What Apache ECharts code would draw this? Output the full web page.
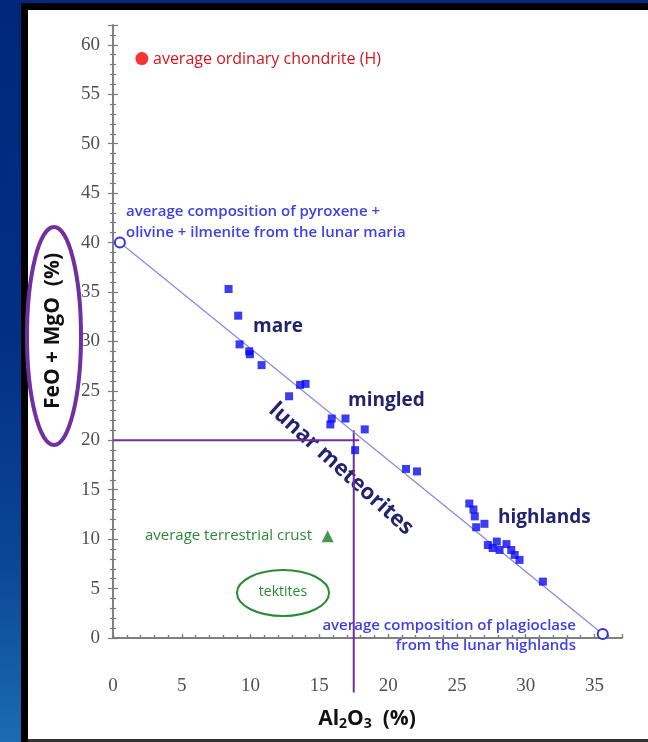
<!DOCTYPE html>
<html>
<head>
<meta charset="utf-8">
<script src="https://cdn.jsdelivr.net/npm/echarts@6/dist/echarts.min.js"></script>
<style>
  html, body { margin: 0; padding: 0; }
  body { width: 648px; height: 742px; position: relative; overflow: hidden;
         background: linear-gradient(to bottom, #00277a 0%, #022f86 45%, #0b4596 75%, #1b6cb0 100%); }
  #black { position: absolute; left: 21px; top: 3px; right: 0; bottom: 0; background: #000; }
  #white { position: absolute; left: 28px; top: 10px; right: 0; bottom: 3px; background: #fff; }
  #bottomline { position: absolute; left: 28px; right: 0; bottom: 0; height: 3px; background: #333; }
  #chart { position: absolute; left: 0; top: 0; width: 648px; height: 742px; }
</style>
</head>
<body>
<div id="black"></div>
<div id="white"></div>
<div id="bottomline"></div>
<div id="chart"></div>
<script>
// ---- data (Al2O3 %, FeO+MgO %) ----
const meteoriteAl2O3 = [8.4, 9.1, 9.2, 9.9, 9.95, 10.8, 12.8, 13.6, 14.0, 15.8, 15.9, 16.9, 17.6, 18.3,
  21.3, 22.1, 25.9, 26.2, 26.3, 26.4, 27.0, 27.25, 27.6, 27.9, 28.1, 28.6, 28.95, 29.2, 29.55, 31.25];
const meteoriteFeOMgO = [35.3, 32.6, 29.7, 29.0, 28.7, 27.6, 24.45, 25.6, 25.7, 21.6, 22.2, 22.2, 19.0, 21.1,
  17.1, 16.85, 13.6, 13.0, 12.3, 11.2, 11.55, 9.4, 9.1, 9.75, 8.9, 9.5, 8.9, 8.4, 7.9, 5.7];
const mixingAl2O3 = [0.5, 35.6];      // maria mafic end-member, plagioclase end-member
const mixingFeOMgO = [40.0, 0.4];
const chondrite = [2.1, 58.6];
const terrestrialCrust = [15.6, 10.3];
const crossH = { al2o3: [0, 17.9], feomgo: [20, 20] };
const crossV = { al2o3: [17.5, 17.5], feomgo: [21, -5.5] };
const xTicks = [0, 5, 10, 15, 20, 25, 30, 35];
const yTicks = [0, 5, 10, 15, 20, 25, 30, 35, 40, 45, 50, 55, 60];

const zip = (a, b) => a.map((v, i) => [v, b[i]]);

const chart = echarts.init(document.getElementById('chart'), null, { renderer: 'canvas' });

const axisLineStyle = { color: '#7a7a7a', width: 1.5 };
const tickStyle = { color: '#7a7a7a', width: 1.2 };
const labelFont = { fontFamily: '"Liberation Serif", "DejaVu Serif", serif', fontSize: 19, color: '#505050' };

const annotFont = '"Open Sans", Lato, sans-serif';

const option = {
  animation: false,
  backgroundColor: 'transparent',
  grid: { left: 113, right: 26, top: 25, bottom: 104, containLabel: false },
  xAxis: [
    {
      type: 'value', min: 0, max: 37, interval: 5, position: 'bottom', offset: 25,
      axisLine: { show: true, lineStyle: axisLineStyle },
      axisTick: { show: true, inside: true, length: 4, lineStyle: tickStyle },
      minorTick: { show: true, splitNumber: 5, length: 3, lineStyle: tickStyle },
      splitLine: { show: false },
      axisLabel: Object.assign({ margin: 14, showMaxLabel: false,
        formatter: v => (xTicks.indexOf(v) >= 0 ? String(v) : '') }, labelFont)
    },
    {
      type: 'value', min: 0, max: 37, interval: 5, position: 'top',
      axisLine: { show: true, lineStyle: axisLineStyle },
      axisTick: { show: true, inside: false, length: 4, lineStyle: tickStyle },
      minorTick: { show: true, splitNumber: 5, length: 3, lineStyle: tickStyle },
      splitLine: { show: false },
      axisLabel: { show: false }
    }
  ],
  yAxis: [
    {
      type: 'value', min: 0, max: 62, interval: 5, position: 'left',
      axisLine: { show: true, lineStyle: axisLineStyle },
      axisTick: { show: true, inside: false, length: 5, lineStyle: tickStyle },
      minorTick: { show: true, splitNumber: 5, length: 3, lineStyle: tickStyle },
      splitLine: { show: false },
      axisLabel: Object.assign({ margin: 13, showMaxLabel: false,
        formatter: v => (yTicks.indexOf(v) >= 0 ? String(v) : '') }, labelFont)
    },
    {
      type: 'value', min: 0, max: 62, interval: 5, position: 'right',
      axisLine: { show: true, lineStyle: axisLineStyle },
      axisTick: { show: true, inside: false, length: 5, lineStyle: tickStyle },
      minorTick: { show: true, splitNumber: 5, length: 3, lineStyle: tickStyle },
      splitLine: { show: false },
      axisLabel: { show: false }
    }
  ],
  series: [
    {
      name: 'mixing line', type: 'line', xAxisIndex: 0, yAxisIndex: 0,
      data: zip(mixingAl2O3, mixingFeOMgO),
      symbol: 'circle', symbolSize: 10, showSymbol: true,
      lineStyle: { color: '#8a8ae8', width: 1.3 },
      itemStyle: { color: '#ffffff', borderColor: '#3535e0', borderWidth: 2 },
      z: 3
    },
    {
      name: 'lunar meteorites', type: 'scatter', xAxisIndex: 0, yAxisIndex: 0,
      data: zip(meteoriteAl2O3, meteoriteFeOMgO),
      symbol: 'rect', symbolSize: 8,
      itemStyle: { color: '#0b0bf0' }, z: 4
    },
    {
      name: 'chondrite', type: 'scatter', data: [chondrite],
      symbol: 'circle', symbolSize: 13, itemStyle: { color: '#f40000' }
    },
    {
      name: 'terrestrial crust', type: 'scatter', data: [terrestrialCrust],
      symbol: 'triangle', symbolSize: 12, itemStyle: { color: '#1d7d22' }
    },
    {
      name: 'crossH', type: 'line', data: zip(crossH.al2o3, crossH.feomgo), clip: false,
      symbol: 'none', lineStyle: { color: '#7030a0', width: 2 }, z: 2
    },
    {
      name: 'crossV', type: 'line', data: zip(crossV.al2o3, crossV.feomgo), clip: false,
      symbol: 'none', lineStyle: { color: '#7030a0', width: 2 }, z: 2
    }
  ],
  graphic: [
    // y-axis title + encircling ellipse
    { type: 'text', x: 53, y: 331, rotation: Math.PI / 2,
      style: { text: 'FeO + MgO  (%)', font: 'bold 21px "Open Sans", "DejaVu Sans", sans-serif',
        fill: '#111', align: 'center', verticalAlign: 'middle' } },
    { type: 'ellipse', shape: { cx: 54, cy: 336, rx: 27, ry: 109 },
      style: { fill: 'none', stroke: '#7030a0', lineWidth: 4 } },
    // x-axis title
    { type: 'text', x: 367, y: 719,
      style: { text: '{a|Al}{s|2}{a|O}{s|3}{a|  (%)}', align: 'center', verticalAlign: 'middle',
        rich: {
          a: { font: 'bold 21px "Open Sans", "DejaVu Sans", sans-serif', fill: '#111' },
          s: { font: 'bold 14px "Open Sans", "DejaVu Sans", sans-serif', fill: '#111', padding: [11, 0, 0, 0] }
        } } },
    // annotations
    { type: 'text', x: 153, y: 59,
      style: { text: 'average ordinary chondrite (H)', font: '16px ' + annotFont, fill: '#d9141c',
        align: 'left', verticalAlign: 'middle' } },
    { type: 'text', x: 126, y: 222,
      style: { text: 'average composition of pyroxene +\nolivine + ilmenite from the lunar maria',
        font: '600 15px ' + annotFont, fill: '#4040e6', lineHeight: 21,
        align: 'left', verticalAlign: 'middle' } },
    { type: 'text', x: 576, y: 636,
      style: { text: 'average composition of plagioclase\nfrom the lunar highlands',
        font: '600 15px ' + annotFont, fill: '#4040e6', lineHeight: 20,
        align: 'right', verticalAlign: 'middle' } },
    { type: 'text', x: 312, y: 536,
      style: { text: 'average terrestrial crust', font: '15px ' + annotFont, fill: '#2c8a35',
        align: 'right', verticalAlign: 'middle' } },
    { type: 'ellipse', shape: { cx: 283, cy: 593, rx: 46, ry: 23 },
      style: { fill: 'none', stroke: '#2c8a35', lineWidth: 2 } },
    { type: 'text', x: 283, y: 592,
      style: { text: 'tektites', font: '14px ' + annotFont, fill: '#2c8a35',
        align: 'center', verticalAlign: 'middle' } },
    { type: 'text', x: 253, y: 327,
      style: { text: 'mare', font: 'bold 19px ' + annotFont, fill: '#23236e',
        align: 'left', verticalAlign: 'middle' } },
    { type: 'text', x: 348, y: 401,
      style: { text: 'mingled', font: 'bold 19px ' + annotFont, fill: '#23236e',
        align: 'left', verticalAlign: 'middle' } },
    { type: 'text', x: 498, y: 518,
      style: { text: 'highlands', font: 'bold 19px ' + annotFont, fill: '#23236e',
        align: 'left', verticalAlign: 'middle' } },
    { type: 'text', x: 341, y: 469, rotation: -42 * Math.PI / 180,
      style: { text: 'lunar meteorites', font: 'bold 22px ' + annotFont, fill: '#23236e',
        align: 'center', verticalAlign: 'middle' } }
  ]
};

chart.setOption(option);
</script>
</body>
</html>
